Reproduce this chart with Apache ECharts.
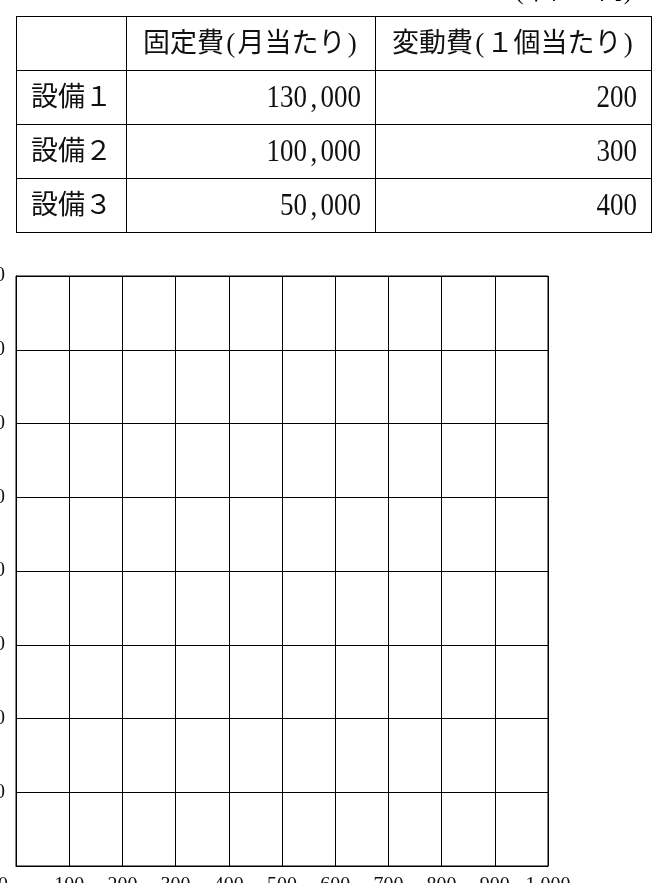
<!DOCTYPE html>
<html>
<head>
<meta charset="utf-8">
<script src="https://cdn.jsdelivr.net/npm/echarts@6/dist/echarts.min.js"></script>
<style>
  html, body { margin: 0; padding: 0; background: #fff; width: 667px; height: 883px; overflow: hidden; }
  #chart { position: absolute; left: 0; top: 0; width: 667px; height: 883px; }
  #unit { position: absolute; right: 35px; top: -30px; font: 25px "Liberation Serif", "Noto Sans CJK JP"; color: #000; white-space: nowrap; }
  #tbl { position: absolute; left: 16px; top: 16px; border-collapse: collapse; table-layout: fixed; width: 635px;
         font-family: "Liberation Serif", "Noto Sans CJK JP"; font-size: 27px; color: #111; }
  #tbl td { border: 1px solid #000; height: 53px; padding: 0 14px; white-space: nowrap; line-height: 1; }
  #tbl td.h { text-align: center; padding: 0; }
  #tbl td.n { text-align: right; padding-right: 14px; }
  #tbl td.l { text-align: left; padding-left: 14px; }
  .hw { display: inline-block; width: 0.5em; text-align: center; }
  .num { display: inline-block; font-size: 27px; transform: scaleY(1.2); transform-origin: 50% 55%; }
</style>
</head>
<body>
<div id="chart"></div>
<div id="unit">(単位：円)</div>
<table id="tbl"></table>
<script>
// ---- data ----
var tableHeaders = ['', '固定費(月当たり)', '変動費(１個当たり)'];
var equipmentNames = ['設備１', '設備２', '設備３'];
var fixedCosts = [130000, 100000, 50000];
var variableCosts = [200, 300, 400];
var xTicks = [0, 100, 200, 300, 400, 500, 600, 700, 800, 900, 1000];
var yTicks = [0, 50000, 100000, 150000, 200000, 250000, 300000, 350000, 400000];

function fmt(v) { return v.toString().replace(/\B(?=(\d{3})+(?!\d))/g, ','); }
// half-width characters rendered in fixed half-em cells (like a Mincho typeface)
function hw(s) {
  return s.split('').map(function (c) {
    return c.charCodeAt(0) < 128 ? '<span class="hw">' + c + '</span>' : c;
  }).join('');
}

// ---- table ----
var tbl = document.getElementById('tbl');
var colW = [110, 249, 276];
var html = '<colgroup>' + colW.map(function (w) { return '<col style="width:' + w + 'px">'; }).join('') + '</colgroup>';
html += '<tr>' + tableHeaders.map(function (h) { return '<td class="h">' + hw(h) + '</td>'; }).join('') + '</tr>';
for (var i = 0; i < equipmentNames.length; i++) {
  html += '<tr><td class="l">' + equipmentNames[i] + '</td><td class="n"><span class="num">' + hw(fmt(fixedCosts[i])) +
          '</span></td><td class="n"><span class="num">' + hw(fmt(variableCosts[i])) + '</span></td></tr>';
}
tbl.innerHTML = html;

// ---- chart ----
var chart = echarts.init(document.getElementById('chart'), null, { renderer: 'canvas' });
var labelFont = { fontFamily: '"Liberation Serif", "Noto Sans CJK JP"', fontSize: 20, color: '#111' };
chart.setOption({
  animation: false,
  grid: { left: 16, right: 119, top: 276, bottom: 17, show: true, borderColor: '#000', borderWidth: 1,
          containLabel: false, outerBoundsMode: 'none' },
  xAxis: {
    type: 'value', min: xTicks[0], max: xTicks[xTicks.length - 1], interval: xTicks[1] - xTicks[0],
    axisLine: { show: true, lineStyle: { color: '#000', width: 1 } },
    axisTick: { show: false },
    splitLine: { show: true, lineStyle: { color: '#000', width: 1 } },
    axisLabel: Object.assign({}, labelFont, {
      margin: 10,
      hideOverlap: false,
      formatter: function (v) { return v === 0 ? '{o|0}' : fmt(v); },
      rich: { o: Object.assign({}, labelFont, { padding: [0, 26, 0, 0] }) }
    })
  },
  yAxis: {
    type: 'value', min: yTicks[0], max: yTicks[yTicks.length - 1], interval: yTicks[1] - yTicks[0],
    axisLine: { show: true, lineStyle: { color: '#000', width: 1 } },
    axisTick: { show: false },
    splitLine: { show: true, lineStyle: { color: '#000', width: 1 } },
    axisLabel: Object.assign({}, labelFont, {
      margin: 11,
      formatter: function (v) { return v === 0 ? '' : fmt(v); }
    })
  },
  series: [{ type: 'line', data: [], silent: true }]
});
</script>
</body>
</html>
